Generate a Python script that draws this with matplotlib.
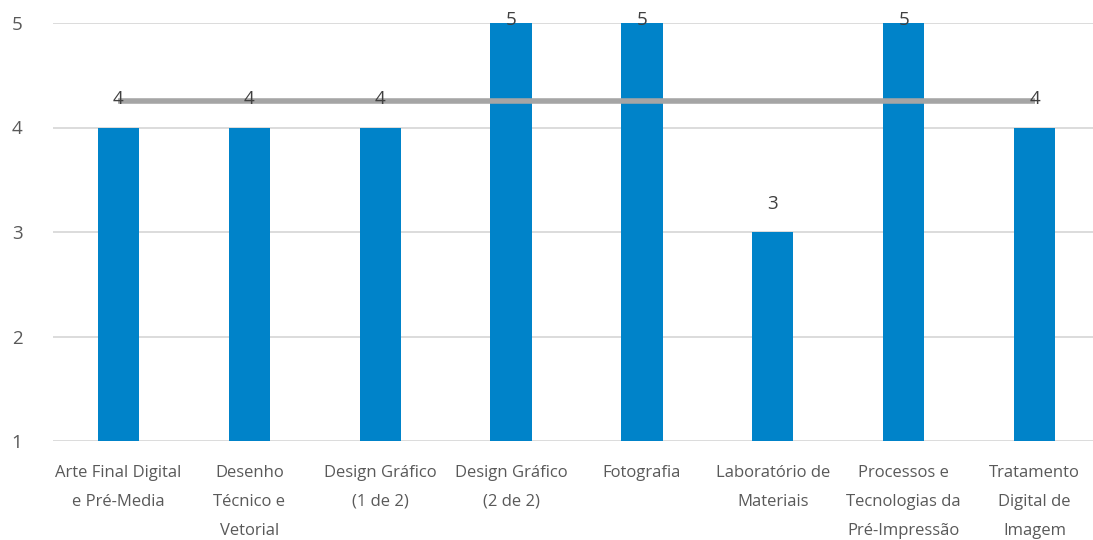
import matplotlib.pyplot as plt
import numpy as np

categories = ['Arte Final Digital\ne Pré-Media', 'Desenho\nTécnico e\nVetorial',
              'Design Gráfico\n(1 de 2)', 'Design Gráfico\n(2 de 2)', 'Fotografia',
              'Laboratório de\nMateriais', 'Processos e\nTecnologias da\nPré-Impressão',
              'Tratamento\nDigital de\nImagem']
values = [4, 4, 4, 5, 5, 3, 5, 4]
average = [4.25] * len(values)

plt.rcParams['font.family'] = ['Open Sans', 'DejaVu Sans']

fig = plt.figure(figsize=(10.93, 5.4), dpi=100)
# axes run slightly past the right edge, as in the cropped original
ax = fig.add_axes([53 / 1093, 99 / 540, 1047 / 1093, 418 / 540])

x = np.arange(len(categories))
ax.bar(x, values, width=0.315, color='#0083C9', zorder=3)
ax.plot(x, average, color='#A5A5A5', linewidth=4, zorder=4, solid_capstyle='butt')

for xi, v in zip(x, values):
    ax.text(xi, min(v + 0.27, 5.03), f'{v}', ha='center', va='center',
            fontsize=13.5, color='#404040', zorder=5)

ax.set_xlim(-0.5, len(categories) - 0.5)
ax.set_ylim(1, 5)
ax.set_yticks([1, 2, 3, 4, 5])
ax.set_xticks(x)
ax.set_xticklabels(categories, fontsize=12, color='#595959', linespacing=2.08)
ax.tick_params(axis='y', labelsize=13.5, labelcolor='#595959', length=0, pad=22)
ax.tick_params(axis='x', length=0, pad=17)
ax.grid(axis='y', color='#D9D9D9', linewidth=1.3, zorder=0)
for s in ax.spines.values():
    s.set_visible(False)

fig.savefig('out.png', dpi=100)
